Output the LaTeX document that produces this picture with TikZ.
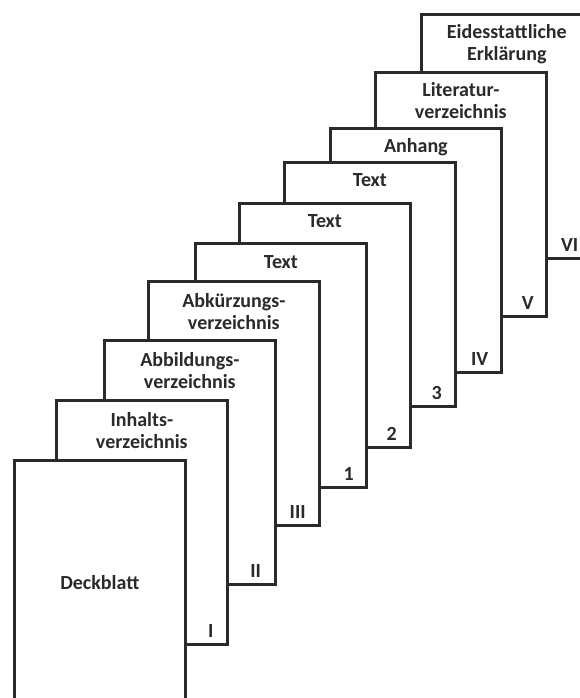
\documentclass[tikz,border=0pt]{standalone}
\usepackage{fontspec}
\setmainfont{Carlito}
\definecolor{ink}{HTML}{2A2A2A}
\begin{document}
\begin{tikzpicture}[x=1pt,y=-1pt,
  page/.style={draw=ink, line width=2.7pt, fill=white, rectangle,
    minimum width=171pt, minimum height=244pt, anchor=north west, inner sep=0pt},
  ttl/.style={font=\fontsize{20}{22}\selectfont\bfseries, text=ink, align=center, anchor=north, inner sep=0pt},
  pnum/.style={font=\fontsize{20}{22}\selectfont\bfseries, text=ink, inner sep=0pt}]
\useasboundingbox (0,0) rectangle (580,698);
\clip (0,0) rectangle (580,698);
% pages, back to front
\node[page] (p9) at (420,13) {};
\node[ttl] (t9) at ([yshift=-11pt]p9.north) {Eidesstattliche\\Erklärung};
\node[pnum] (n9) at ([xshift=-24pt,yshift=15pt]p9.south east) {VI};
\node[page] (p8) at (374,71) {};
\node[ttl] (t8) at ([yshift=-11pt]p8.north) {Literatur-\\verzeichnis};
\node[pnum] (n8) at ([xshift=-20pt,yshift=15pt]p8.south east) {V};
\node[page] (p7) at (329,127) {};
\node[ttl] (t7) at ([yshift=-11pt]p7.north) {Anhang};
\node[pnum] (n7) at ([xshift=-23pt,yshift=15pt]p7.south east) {IV};
\node[page] (p6) at (283,161) {};
\node[ttl] (t6) at ([yshift=-12pt]p6.north) {Text};
\node[pnum] (n6) at ([xshift=-20pt,yshift=15pt]p6.south east) {3};
\node[page] (p5) at (238,202) {};
\node[ttl] (t5) at ([yshift=-12pt]p5.north) {Text};
\node[pnum] (n5) at ([xshift=-20pt,yshift=15pt]p5.south east) {2};
\node[page] (p4) at (194,242) {};
\node[ttl] (t4) at ([yshift=-13pt]p4.north) {Text};
\node[pnum] (n4) at ([xshift=-19pt,yshift=15pt]p4.south east) {1};
\node[page] (p3) at (147,280) {};
\node[ttl] (t3) at ([yshift=-13pt]p3.north) {Abkürzungs-\\verzeichnis};
\node[pnum] (n3) at ([xshift=-23pt,yshift=15pt]p3.south east) {III};
\node[page] (p2) at (103,339) {};
\node[ttl] (t2) at ([yshift=-13pt]p2.north) {Abbildungs-\\verzeichnis};
\node[pnum] (n2) at ([xshift=-21pt,yshift=15pt]p2.south east) {II};
\node[page] (p1) at (55,399) {};
\node[ttl] (t1) at ([yshift=-13pt]p1.north) {Inhalts-\\verzeichnis};
\node[pnum] (n1) at ([xshift=-18pt,yshift=15pt]p1.south east) {I};
\node[page] (p0) at (13,459) {};
\node[pnum] (t0) at (p0.center) {Deckblatt};
\end{tikzpicture}
\end{document}
